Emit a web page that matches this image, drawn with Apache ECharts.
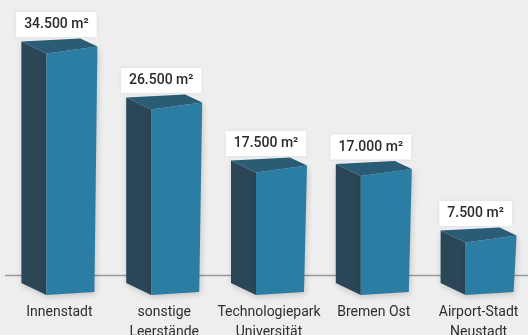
<!DOCTYPE html>
<html>
<head>
<meta charset="utf-8">
<script src="https://cdn.jsdelivr.net/npm/echarts@6/dist/echarts.min.js"></script>
<style>
html,body{margin:0;padding:0;background:#eeeeee;}
#chart{width:528px;height:335px;}
</style>
</head>
<body>
<div id="chart"></div>
<script>
var categories = ['Innenstadt', 'sonstige\nLeerstände', 'Technologiepark\nUniversität', 'Bremen Ost', 'Airport-Stadt\nNeustadt'];
var areaValues = [34500, 26500, 17500, 17000, 7500];
var unitLabel = 'm²';

function fmtDE(v) {
  return String(v).replace(/\B(?=(\d{3})+(?!\d))/g, '.');
}

var chart = echarts.init(document.getElementById('chart'));

var FRONT = '#2c7da3';
var SIDE = '#2b4656';
var TOP = '#2a5d75';

function renderItem(params, api) {
  var idx = api.value(0);
  var val = api.value(1);
  var p0 = api.coord([idx, 0]);
  var p1 = api.coord([idx, val]);
  var cx = p0[0];
  var y0 = p0[1];
  var y1 = p1[1];
  var xl = cx - 13;
  var xrT = cx + 38;
  var xrB = cx + 35;
  var dx = -25, dy = -12;
  var shadow = {shadowBlur: 6, shadowColor: 'rgba(0,0,0,0.18)', shadowOffsetX: 1, shadowOffsetY: 2};
  return {
    type: 'group',
    children: [
      {type: 'polygon', shape: {points: [[xl + dx, y1 + dy], [xl, y1], [xl, y0], [xl + dx, y0 + dy]]},
        style: Object.assign({fill: SIDE}, shadow)},
      {type: 'polygon', shape: {points: [[xl, y1], [xrT, y1 - 7], [xrB, y0 - 3], [xl, y0]]},
        style: Object.assign({fill: FRONT}, shadow)},
      {type: 'polygon', shape: {points: [[xl + dx, y1 + dy], [cx + 21, y1 - 15], [xrT, y1 - 7], [xl, y1]]},
        style: {fill: TOP}},
      {type: 'text', x: cx - 3, y: y1 - 29,
        style: {
          text: fmtDE(val) + ' ' + unitLabel,
          fill: '#2a2a2a',
          font: '500 14px Roboto',
          align: 'center',
          verticalAlign: 'middle',
          backgroundColor: '#ffffff',
          padding: [6, 8, 5, 8],
          shadowBlur: 4,
          shadowColor: 'rgba(0,0,0,0.08)'
        }}
    ]
  };
}

chart.setOption({
  backgroundColor: '#eeeeee',
  animation: false,
  grid: {left: 7, right: -3, top: 15, bottom: 40, containLabel: false, outerBoundsMode: 'none'},
  xAxis: {
    type: 'category',
    data: categories,
    axisLine: {show: false},
    axisTick: {show: false},
    axisLabel: {color: '#2e2e2e', fontFamily: 'Roboto', fontSize: 14, lineHeight: 20, margin: 7, interval: 0}
  },
  yAxis: {type: 'value', min: 0, max: 40000, show: false, splitLine: {show: false}},
  graphic: [
    {type: 'line', z: 0, shape: {x1: 5, y1: 275.5, x2: 528, y2: 275.5}, style: {stroke: '#9a9a9a', lineWidth: 1.5}}
  ],
  series: [{
    type: 'custom',
    z: 5,
    renderItem: renderItem,
    data: areaValues.map(function (v, i) { return [i, v]; })
  }]
});
</script>
</body>
</html>
